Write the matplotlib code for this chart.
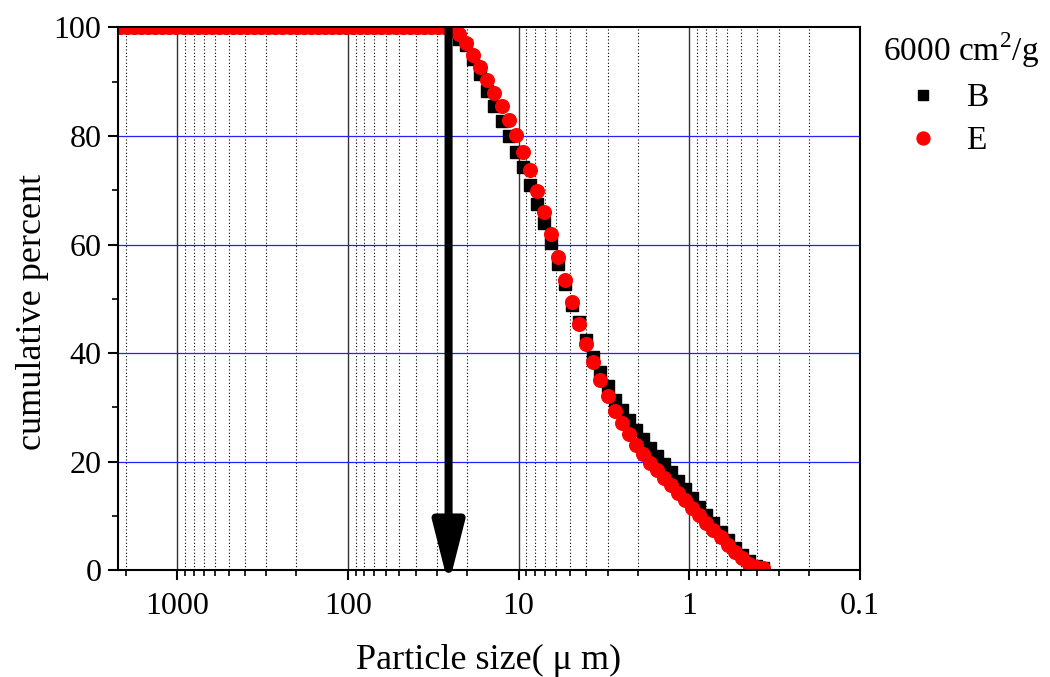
"""Cumulative particle size distribution, samples B and E (6000 cm2/g)."""
import matplotlib
matplotlib.use("Agg")
import matplotlib.pyplot as plt
from matplotlib.ticker import FixedLocator, FuncFormatter, MultipleLocator

plt.rcParams["font.family"] = ["Liberation Serif", "DejaVu Serif"]
plt.rcParams["mathtext.fontset"] = "custom"
plt.rcParams["mathtext.rm"] = "Liberation Serif"

# particle size bins [um], coarse -> fine
size_um = [2163, 1967, 1788, 1625, 1477, 1343, 1221, 1110, 1009, 917.2,
           833.8, 758.0, 689.1, 626.5, 569.5, 517.8, 470.7, 427.9, 389.0, 353.6,
           321.5, 292.3, 265.7, 241.5, 219.6, 199.6, 181.5, 165.0, 150.0, 136.3,
           123.9, 112.7, 102.4, 93.11, 84.65, 76.95, 69.96, 63.60, 57.82, 52.56,
           47.78, 43.44, 39.49, 35.90, 32.63, 29.67, 26.97, 24.52, 22.29, 20.26,
           18.42, 16.75, 15.22, 13.84, 12.58, 11.44, 10.40, 9.454, 8.594, 7.813,
           7.103, 6.457, 5.870, 5.336, 4.851, 4.410, 4.009, 3.645, 3.313, 3.012,
           2.738, 2.489, 2.263, 2.057, 1.870, 1.700, 1.546, 1.405, 1.277, 1.161,
           1.056, 0.960, 0.872, 0.793, 0.721, 0.655, 0.596, 0.542, 0.492, 0.448,
           0.407, 0.370]

# cumulative percent passing
cum_B = [100] * 47 + [99.3, 97.8,
         96.7, 94.1, 91.5, 88.3, 85.5, 82.7, 80.0, 77.0, 74.2, 70.9,
         67.5, 64.0, 60.2, 56.4, 52.7, 48.8, 45.7, 42.4, 39.3, 36.5,
         33.9, 31.3, 29.5, 27.6, 25.8, 24.1, 22.5, 21.0, 19.5, 18.0,
         16.4, 14.9, 13.3, 11.7, 10.1, 8.6, 7.0, 5.5, 4.1, 2.8,
         1.6, 0.8, 0.3]
cum_E = [100] * 47 + [99.6, 98.8,
         97.2, 95.0, 92.7, 90.3, 88.0, 85.5, 82.9, 80.1, 77.0, 73.7,
         69.9, 65.9, 62.0, 57.7, 53.5, 49.4, 45.4, 41.7, 38.3, 35.0,
         32.0, 29.3, 27.1, 25.0, 23.0, 21.4, 19.8, 18.4, 17.0, 15.7,
         14.2, 12.9, 11.5, 10.1, 8.7, 7.4, 6.0, 4.6, 3.4, 2.2,
         1.2, 0.6, 0.3]

x_ticks = [1000, 100, 10, 1, 0.1]
y_ticks = [0, 20, 40, 60, 80, 100]
h_lines = [20, 40, 60, 80]
arrow_size = 25.7   # size marked by the arrow [um]

fig = plt.figure(figsize=(10.5, 6.77), dpi=100)
ax = fig.add_axes([0.1124, 0.158, 0.7066, 0.8014])

ax.set_xscale("log")
ax.set_xlim(2220, 0.1)
ax.set_ylim(0, 100)

# grid: solid decades, dotted sub-decades, blue horizontal lines
minor = [m * 10.0 ** e for e in range(-1, 4) for m in range(2, 10)]
minor = [v for v in minor if 0.1 < v < 2220]
for v in x_ticks[:-1]:
    ax.axvline(v, color="#333333", lw=1.0, zorder=1)
for v in minor:
    ax.axvline(v, color="black", lw=0.8, ls=(0, (1, 2)), zorder=1)
for v in h_lines:
    ax.axhline(v, color="#2222ff", lw=0.9, zorder=1)

ax.plot(size_um, cum_B, ls="none", marker="s", ms=8.3, color="black",
        mec="black", label="B", zorder=3)
ax.plot(size_um, cum_E, ls="none", marker="o", ms=9.8, color="red",
        mec="red", label="E", zorder=4)

ax.annotate("", xy=(arrow_size, -2.8), xytext=(arrow_size, 100),
            arrowprops=dict(arrowstyle="-|>,head_length=1.85,head_width=0.47",
                            lw=5.8, color="black", shrinkA=0, shrinkB=0,
                            mutation_scale=20, joinstyle="round",
                            capstyle="butt"),
            annotation_clip=False, zorder=6)

ax.xaxis.set_major_locator(FixedLocator(x_ticks))
ax.xaxis.set_minor_locator(FixedLocator(minor))
ax.xaxis.set_major_formatter(FuncFormatter(lambda v, p: f"{v:g}"))
ax.set_yticks(y_ticks)
ax.yaxis.set_minor_locator(MultipleLocator(10))

for s in ax.spines.values():
    s.set_linewidth(1.5)
    s.set_zorder(5)
ax.tick_params(which="major", direction="out", length=7, width=1.5,
               labelsize=23, pad=5)
ax.tick_params(which="minor", direction="out", length=4.5, width=1.2)
ax.tick_params(axis="x", which="major", pad=9)

ax.set_xlabel("Particle size( \u03bc m)", fontsize=26, labelpad=16)
ax.set_ylabel("cumulative percent", fontsize=26)
ax.yaxis.set_label_coords(-0.093, 0.475)

leg = ax.legend(loc="upper left", bbox_to_anchor=(0.99, 1.05), frameon=False,
                title="6000 cm$^2$/g", title_fontsize=24, fontsize=24,
                handletextpad=0.12, labelspacing=0.38, handlelength=2.4,
                markerscale=0.95, alignment="left")

fig.savefig("out.png", dpi=100)
